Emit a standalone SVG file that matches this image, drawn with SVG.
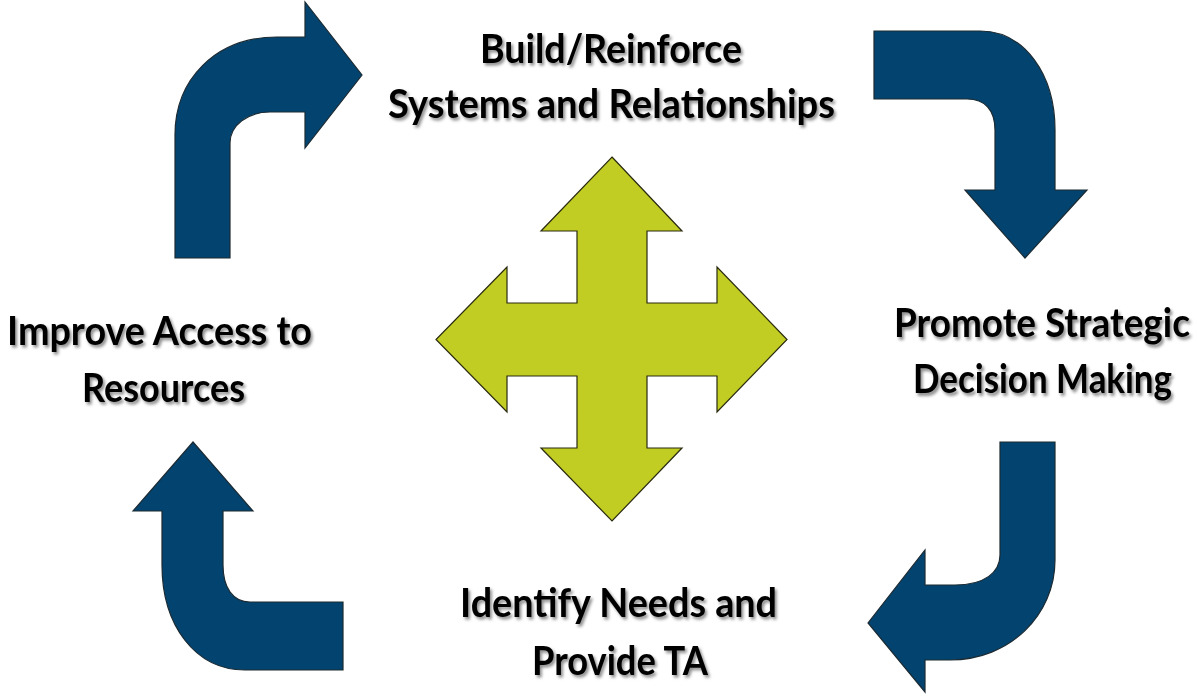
<svg xmlns="http://www.w3.org/2000/svg" width="1197" height="697" viewBox="0 0 1197 697">
<style>
.blue{fill:#02446F;stroke:#1b2a33;stroke-width:1.2;stroke-linejoin:miter}
.green{fill:#C1CD22;stroke:#2a2a10;stroke-width:1.2}
.lbl{font-family:Lato,"Open Sans",sans-serif;font-weight:bold;font-size:40px;fill:#000;filter:url(#sh)}
.lbs{font-size:35px}
</style>
<defs>
<filter id="sh" x="-10%" y="-20%" width="120%" height="150%">
<feDropShadow dx="2" dy="2.5" stdDeviation="1.5" flood-color="#000" flood-opacity="0.45"/>
</filter>
</defs>
<rect width="1197" height="697" fill="#fff"/>
<g id="connectors">
<path id="arrow-tl" class="blue" d="M175,258 L175,135 C175,80 215,37 277,37 L305,37 L305,2 L362,75 L305,148 L305,112 L270,112 C248,112 230,125 230,143 L230,258 Z"/>
<path id="arrow-tr" class="blue" d="M874,31 L980,31 C1025,31 1055,75 1055,130 L1055,190 L1087,190 L1025,258 L965,190 L995,190 L995,130 C995,110 985,99 967,99 L874,99 Z"/>
<path id="arrow-br" class="blue" d="M1000,442 L1055,442 L1055,560 C1055,615 1010,660 950,660 L925,660 L925,692 L868,623 L925,550 L925,585 L955,585 C985,585 1000,572 1000,555 Z"/>
<path id="arrow-bl" class="blue" d="M193,442 L253,511 L223,511 L223,565 C223,588 233,602 250,602 L343,602 L343,670 L245,670 C195,670 162,625 162,565 L162,511 L133,511 Z"/>
</g>
<g id="center">
<path class="green" d="M612,157 L682,231 L647,231 L647,303 L717,303 L717,267 L787,339.5 L717,412 L717,376 L647,376 L647,448 L682,448 L612,521 L541,448 L577,448 L577,376 L507,376 L507,412 L436,339.5 L507,267 L507,303 L577,303 L577,231 L541,231 Z"/>
</g>
<g id="node-top">
<text class="lbl" x="480" y="63" textLength="262" lengthAdjust="spacingAndGlyphs">Build/Reinforce</text>
<text class="lbl" x="388" y="118" textLength="447" lengthAdjust="spacingAndGlyphs">Systems and Relationships</text>
</g>
<g id="node-right">
<text class="lbl lbs" x="0" y="0" transform="translate(894,337) scale(1,1.143)" textLength="296" lengthAdjust="spacingAndGlyphs">Promote Strategic</text>
<text class="lbl lbs" x="0" y="0" transform="translate(913,393) scale(1,1.143)" textLength="259" lengthAdjust="spacingAndGlyphs">Decision Making</text>
</g>
<g id="node-bottom">
<text class="lbl" x="460" y="617" textLength="317" lengthAdjust="spacingAndGlyphs">Identify Needs and</text>
<text class="lbl" x="532" y="675" textLength="176" lengthAdjust="spacingAndGlyphs">Provide TA</text>
</g>
<g id="node-left">
<text class="lbl" x="7" y="345" textLength="305" lengthAdjust="spacingAndGlyphs">Improve Access to</text>
<text class="lbl" x="82" y="402" textLength="163" lengthAdjust="spacingAndGlyphs">Resources</text>
</g>
</svg>
